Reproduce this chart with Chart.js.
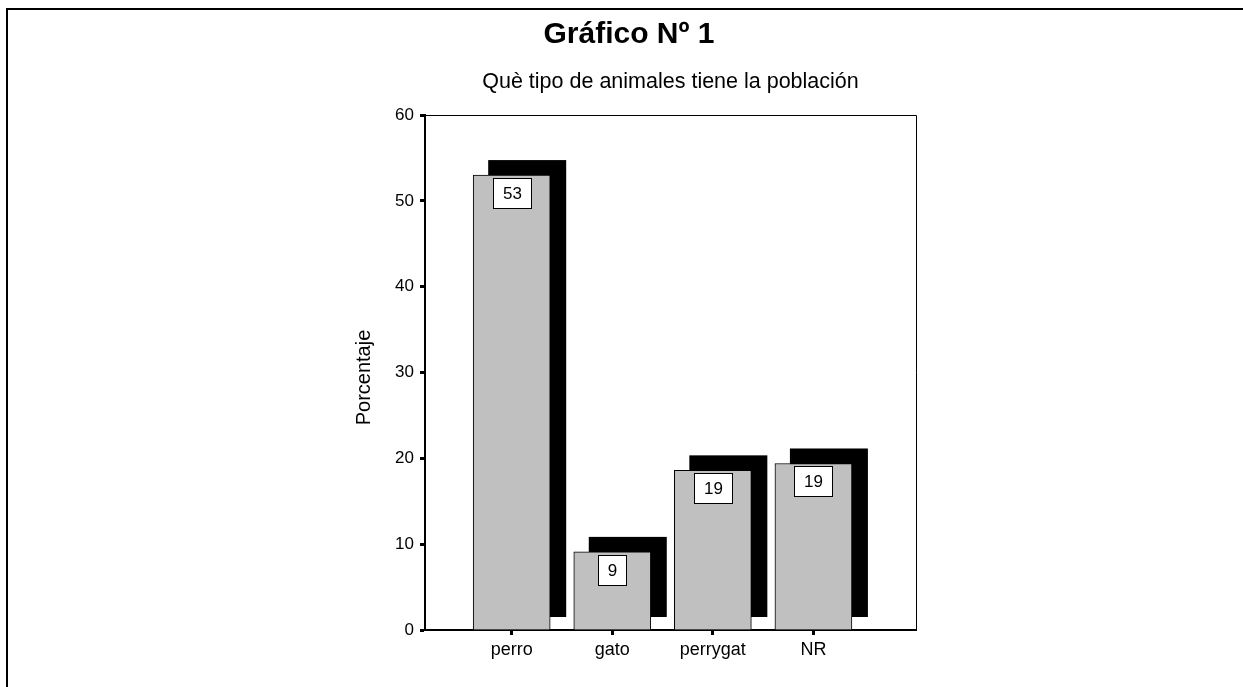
<!DOCTYPE html>
<html>
<head>
<meta charset="utf-8">
<script src="https://cdn.jsdelivr.net/npm/chart.js@4"></script>
<style>
html,body{margin:0;padding:0;background:#fff;overflow:hidden;}
canvas{display:block;}
</style>
</head>
<body>
<canvas id="c" width="1243" height="687"></canvas>
<script>
// ---- data ----
const categories = ['perro', 'gato', 'perrygat', 'NR'];
const percentages = [53.0, 9.1, 18.6, 19.4];
const yTicks = [0, 10, 20, 30, 40, 50, 60];
const chartTitle = 'Gráfico Nº 1';
const chartSubtitle = 'Què tipo de animales tiene la población';
const yAxisTitle = 'Porcentaje';

const FONT = '"Liberation Sans", Arial, Helvetica, sans-serif';
Chart.defaults.font.family = FONT;
Chart.defaults.color = '#000';

const framePlugin = {
  id: 'frame',
  beforeDraw(chart) {
    const ctx = chart.ctx;
    ctx.save();
    ctx.fillStyle = '#fff';
    ctx.fillRect(0, 0, chart.width, chart.height);
    ctx.fillStyle = '#000';
    ctx.fillRect(6, 8, 2, chart.height);
    ctx.fillRect(6, 8, chart.width, 2);
    ctx.restore();
  },
  afterDraw(chart) {
    const ctx = chart.ctx;
    const a = chart.chartArea;
    ctx.save();
    ctx.strokeStyle = '#000';
    ctx.lineWidth = 1;
    ctx.beginPath();
    ctx.moveTo(a.left, a.top + 0.5);
    ctx.lineTo(a.right + 0.5, a.top + 0.5);
    ctx.lineTo(a.right + 0.5, a.bottom);
    ctx.stroke();
    // titles
    ctx.fillStyle = '#000';
    ctx.textAlign = 'center';
    ctx.textBaseline = 'alphabetic';
    ctx.font = 'bold 30px ' + FONT;
    ctx.fillText(chartTitle, 629, 43);
    ctx.font = '21.5px ' + FONT;
    ctx.fillText(chartSubtitle, (a.left + a.right) / 2, 88);
    ctx.translate(370, (a.top + a.bottom) / 2 + 5);
    ctx.rotate(-Math.PI / 2);
    ctx.font = '20px ' + FONT;
    ctx.fillText(yAxisTitle, 0, 0);
    ctx.restore();
  }
};

const shadowPlugin = {
  id: 'shadow',
  beforeDatasetsDraw(chart) {
    const ctx = chart.ctx;
    const meta = chart.getDatasetMeta(0);
    const base = chart.scales.y.getPixelForValue(0);
    ctx.save();
    ctx.fillStyle = '#000';
    meta.data.forEach(bar => {
      const p = bar.getProps(['x', 'y', 'width'], true);
      const left = p.x - p.width / 2 + 15;
      const top = p.y - 15;
      ctx.fillRect(left, top, p.width + 1, (base - 13) - top);
    });
    ctx.restore();
  },
  afterDatasetsDraw(chart) {
    const ctx = chart.ctx;
    const meta = chart.getDatasetMeta(0);
    ctx.save();
    ctx.font = '17px ' + FONT;
    ctx.textAlign = 'center';
    ctx.textBaseline = 'middle';
    meta.data.forEach((bar, i) => {
      const p = bar.getProps(['x', 'y'], true);
      const txt = String(Math.round(percentages[i]));
      const w = Math.round(ctx.measureText(txt).width + 19);
      const h = 30;
      const x0 = Math.round(p.x - w / 2) + 0.5;
      const y0 = Math.round(p.y + 3) + 0.5;
      ctx.fillStyle = '#fff';
      ctx.fillRect(x0, y0, w, h);
      ctx.strokeStyle = '#000';
      ctx.lineWidth = 1;
      ctx.strokeRect(x0, y0, w, h);
      ctx.fillStyle = '#000';
      ctx.fillText(txt, x0 + w / 2, y0 + h / 2 + 1);
    });
    ctx.restore();
  }
};

new Chart(document.getElementById('c'), {
  type: 'bar',
  data: {
    datasets: [{
      data: categories.map((c, i) => ({ x: i + 1, y: percentages[i] })),
      backgroundColor: '#c0c0c0',
      borderColor: '#000',
      borderWidth: 1,
      barThickness: 77
    }]
  },
  options: {
    responsive: false,
    animation: false,
    devicePixelRatio: 1,
    layout: { padding: { left: 360, right: 327, top: 115, bottom: 0 } },
    plugins: { legend: { display: false }, tooltip: { enabled: false }, title: { display: false } },
    scales: {
      x: {
        type: 'linear',
        offset: false,
        min: 0.138,
        max: 5.02,
        afterBuildTicks: s => { s.ticks = categories.map((c, i) => ({ value: i + 1 })); },
        afterFit: s => { s.height = 57; },
        ticks: {
          callback: (v, i) => categories[i],
          font: { size: 18 },
          color: '#000',
          padding: 4,
          maxRotation: 0,
          autoSkip: false
        },
        grid: {
          offset: false,
          display: true,
          drawOnChartArea: false,
          drawTicks: true,
          tickLength: 5,
          tickWidth: 3,
          tickColor: '#000',
          color: '#000'
        },
        border: { display: true, color: '#000', width: 2 }
      },
      y: {
        min: 0,
        max: 60,
        afterBuildTicks: s => { s.ticks = yTicks.map(v => ({ value: v })); },
        afterFit: s => { s.width = 65; },
        ticks: {
          font: { size: 17 },
          color: '#000',
          padding: 6
        },
        grid: {
          display: true,
          drawOnChartArea: false,
          drawTicks: true,
          tickLength: 5,
          tickWidth: 3,
          tickColor: '#000',
          color: '#000'
        },
        border: { display: true, color: '#000', width: 2 }
      }
    }
  },
  plugins: [framePlugin, shadowPlugin]
});
</script>
</body>
</html>
